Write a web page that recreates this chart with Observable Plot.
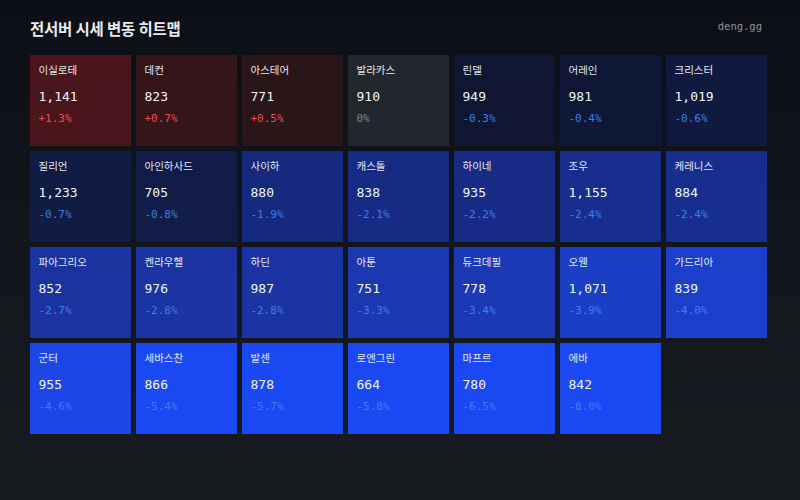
<!DOCTYPE html>
<html>
<head>
<meta charset="utf-8">
<script src="https://cdn.jsdelivr.net/npm/d3@7"></script>
<script src="https://cdn.jsdelivr.net/npm/@observablehq/plot@0.6"></script>
<style>
  html, body { margin: 0; padding: 0; }
  body {
    width: 800px; height: 500px; overflow: hidden;
    background: linear-gradient(180deg, #0c1016 0%, #13161c 55%, #181b20 100%);
    font-family: "Noto Sans CJK KR", "Noto Sans", sans-serif;
  }
  #header { position: relative; height: 45px; }
  #title {
    position: absolute; left: 30px; top: 16px;
    font-size: 15.5px; font-weight: 600; color: #e8eaee; letter-spacing: -0.2px;
    line-height: 24px;
  }
  #brand {
    position: absolute; right: 38px; top: 18px;
    font-family: "DejaVu Sans Mono", monospace; font-size: 10.5px; color: #8b929b;
    line-height: 16px;
  }
  #chart svg { display: block; background: transparent; overflow: visible; }
</style>
</head>
<body>
<div id="header">
  <div id="title">전서버 시세 변동 히트맵</div>
  <div id="brand">deng.gg</div>
</div>
<div id="chart"></div>
<script>
// Data
const servers = [
  "이실로테", "데컨", "아스테어", "발라카스", "린델", "어레인", "크리스터",
  "질리언", "아인하사드", "사이하", "캐스톨", "하이네", "조우", "케레니스",
  "파아그리오", "켄라우헬", "하딘", "아툰", "듀크데필", "오웬", "가드리아",
  "군터", "세바스찬", "발센", "로엔그린", "마프르", "에바"
];
const prices = [
  1141, 823, 771, 910, 949, 981, 1019,
  1233, 705, 880, 838, 935, 1155, 884,
  852, 976, 987, 751, 778, 1071, 839,
  955, 866, 878, 664, 780, 842
];
const changes = [
  1.3, 0.7, 0.5, 0, -0.3, -0.4, -0.6,
  -0.7, -0.8, -1.9, -2.1, -2.2, -2.4, -2.4,
  -2.7, -2.8, -2.8, -3.3, -3.4, -3.9, -4.0,
  -4.6, -5.4, -5.7, -5.8, -6.5, -8.0
];
const columns = [0, 1, 2, 3, 4, 5, 6];
const rows = [0, 1, 2, 3];

const nCols = columns.length;
const table = servers.map((name, i) => ({
  name,
  price: prices[i],
  change: changes[i],
  col: i % nCols,
  row: Math.floor(i / nCols)
}));

const fmtPrice = d3.format(",");
const fmtChange = (d) => d > 0 ? `+${d.toFixed(1)}%` : d === 0 ? "0%" : `${d.toFixed(1)}%`;

const bw = 101; // band width in px (from layout)
const left = -bw / 2 + 8;

const plot = Plot.plot({
  width: 800,
  height: 455,
  marginLeft: 30,
  marginRight: 33,
  marginTop: 10,
  marginBottom: 66,
  style: { background: "transparent" },
  x: { type: "band", domain: columns, paddingInner: 5 / 106, paddingOuter: 0, axis: null },
  y: { type: "band", domain: rows, paddingInner: 5 / 96, paddingOuter: 0, axis: null },
  color: {
    type: "linear",
    domain: [-5.4, -4.6, -4.0, -3.3, -2.7, -2.3, -1.9, -0.8, -0.3, 0, 0.5, 0.7, 1.3],
    range: ["#1a49f3", "#1c46e6", "#1b3fcb", "#1b38b0", "#1a33a0", "#172c88", "#15297e", "#111d48", "#0f1632", "#22272d", "#2a1519", "#35141a", "#4a151b"],
    interpolate: "rgb",
    clamp: true
  },
  marks: [
    Plot.cell(table, { x: "col", y: "row", fill: "change" }),
    Plot.text(table, {
      x: "col", y: "row", text: "name",
      dx: left, dy: -30.5, textAnchor: "start",
      fill: "#e3e7ee", fontSize: 10.5,
      fontFamily: "Noto Sans CJK KR"
    }),
    Plot.text(table, {
      x: "col", y: "row", text: (d) => fmtPrice(d.price),
      dx: left, dy: -4.5, textAnchor: "start",
      fill: "#f2f4f7", fontSize: 13,
      fontFamily: "DejaVu Sans Mono"
    }),
    Plot.text(table.filter((d) => d.change > 0), {
      x: "col", y: "row", text: (d) => fmtChange(d.change),
      dx: left, dy: 17.5, textAnchor: "start",
      fill: "#ee4b57", fontSize: 11,
      fontFamily: "DejaVu Sans Mono"
    }),
    Plot.text(table.filter((d) => d.change === 0), {
      x: "col", y: "row", text: (d) => fmtChange(d.change),
      dx: left, dy: 17.5, textAnchor: "start",
      fill: "#7e868f", fontSize: 11,
      fontFamily: "DejaVu Sans Mono"
    }),
    Plot.text(table.filter((d) => d.change < 0), {
      x: "col", y: "row", text: (d) => fmtChange(d.change),
      dx: left, dy: 17.5, textAnchor: "start",
      fill: "#3a7ff0", fontSize: 11,
      fontFamily: "DejaVu Sans Mono"
    })
  ]
});
document.getElementById("chart").appendChild(plot);
</script>
</body>
</html>
